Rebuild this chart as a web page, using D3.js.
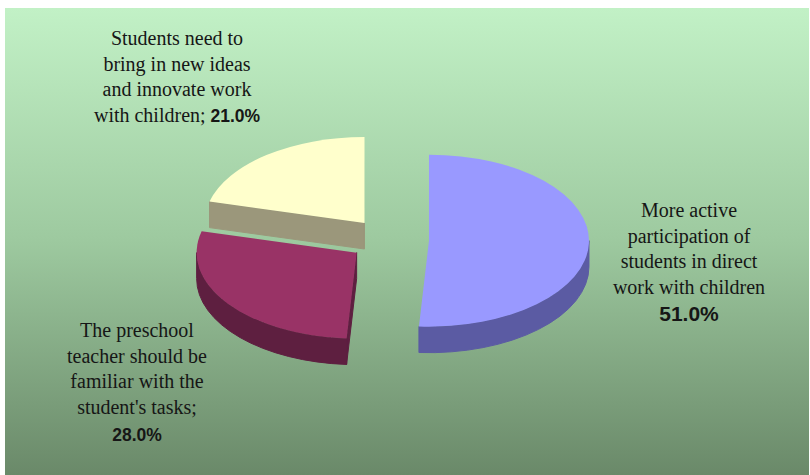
<!DOCTYPE html>
<html>
<head>
<meta charset="utf-8">
<script src="https://cdn.jsdelivr.net/npm/d3@7"></script>
<style>
  body { margin: 0; background: #fff; }
  svg { display: block; }
</style>
</head>
<body>
<div id="chart"></div>
<script>
// slices, clockwise from 12 o'clock
const categories = [
  ["More active", "participation of", "students in direct", "work with children"],
  ["The preschool", "teacher should be", "familiar with the", "student's tasks;"],
  ["Students need to", "bring in new ideas", "and innovate work", "with children;"]
];
const values = [51, 28, 21];
const topColors = ["#9999ff", "#993366", "#ffffcc"];
const sideColors = ["#5b5ba3", "#5e1f40", "#9b977b"];

// where each label block sits (centre x, first baseline)
const labelPos = [
  { x: 689, y: 217, inline: false, pctSize: 21 },
  { x: 137, y: 337, inline: false, pctSize: 17.5 },
  { x: 177, y: 45, inline: true, pctSize: 17.5 }
];

const width = 810, height = 475;
const cx = 389, cy = 240, r = 160;
const k = 86 / 160;          // vertical squash of the tilted pie
const depth = 26 / k;        // thickness, in unsquashed units
const explode = 40;
const lineH = 25.5;

const svg = d3.select("#chart").append("svg")
  .attr("width", width)
  .attr("height", height);

const grad = svg.append("defs").append("linearGradient")
  .attr("id", "bg")
  .attr("x1", 0).attr("y1", 0).attr("x2", 0).attr("y2", 1);
grad.append("stop").attr("offset", "0%").attr("stop-color", "#c2f1c6");
grad.append("stop").attr("offset", "50%").attr("stop-color", "#9dc99f");
grad.append("stop").attr("offset", "100%").attr("stop-color", "#6a8969");

svg.append("rect")
  .attr("x", 5).attr("y", 8)
  .attr("width", width - 6).attr("height", height - 8)
  .attr("fill", "url(#bg)");

const pie = d3.pie().sort(null).startAngle(0).endAngle(2 * Math.PI);
const arcTop = d3.arc().innerRadius(0).outerRadius(r);
const arcOff = d3.arc().innerRadius(0).outerRadius(explode * 2);

const pt = a => [r * Math.sin(a), -r * Math.cos(a)];

const slices = pie(values).map((a, i) => {
  const [ox, oy] = arcOff.centroid(a);
  return { a, i, ox, oy };
}).sort((p, q) => p.oy - q.oy);  // back ones first

const pieG = svg.append("g")
  .attr("transform", `translate(${cx},${cy}) scale(1,${k})`);

slices.forEach(s => {
  const g = pieG.append("g").attr("transform", `translate(${s.ox},${s.oy})`);
  const a0 = s.a.startAngle, a1 = s.a.endAngle;
  const side = sideColors[s.i];

  // radial walls that face the viewer
  const walls = [];
  if (Math.sin(a0) < -1e-6) walls.push(a0);
  if (Math.sin(a1) > 1e-6) walls.push(a1);
  walls.forEach(phi => {
    const [x, y] = pt(phi);
    g.append("path")
      .attr("d", `M0,0L${x},${y}L${x},${y + depth}L0,${depth}Z`)
      .attr("fill", side)
      .attr("stroke", side)
      .attr("vector-effect", "non-scaling-stroke");
  });

  // outer curved wall, front half only
  const lo = Math.max(a0, Math.PI / 2), hi = Math.min(a1, 3 * Math.PI / 2);
  if (hi > lo) {
    const [x0, y0] = pt(lo), [x1, y1] = pt(hi);
    g.append("path")
      .attr("d", `M${x0},${y0}A${r},${r} 0 0 1 ${x1},${y1}` +
                 `L${x1},${y1 + depth}A${r},${r} 0 0 0 ${x0},${y0 + depth}Z`)
      .attr("fill", side)
      .attr("stroke", side)
      .attr("vector-effect", "non-scaling-stroke");
  }

  g.append("path")
    .attr("d", arcTop(s.a))
    .attr("fill", topColors[s.i]);
});

// labels
const fmt = v => d3.format(".1f")(v) + "%";
const serif = "Liberation Serif";
const sans = "Liberation Sans";

categories.forEach((lines, i) => {
  const p = labelPos[i];
  const t = svg.append("g").attr("class", "label");
  lines.forEach((line, j) => {
    const txt = t.append("text")
      .attr("x", p.x)
      .attr("y", p.y + j * lineH)
      .attr("text-anchor", "middle")
      .attr("font-family", serif)
      .attr("font-size", 20)
      .attr("fill", "#161616")
      .text(line);
    if (p.inline && j === lines.length - 1) {
      txt.append("tspan")
        .attr("font-family", sans)
        .attr("font-weight", "bold")
        .attr("font-size", p.pctSize)
        .text(" " + fmt(values[i]));
    }
  });
  if (!p.inline) {
    t.append("text")
      .attr("x", p.x)
      .attr("y", p.y + lines.length * lineH + 2)
      .attr("text-anchor", "middle")
      .attr("font-family", sans)
      .attr("font-weight", "bold")
      .attr("font-size", p.pctSize)
      .attr("fill", "#161616")
      .text(fmt(values[i]));
  }
});
</script>
</body>
</html>
